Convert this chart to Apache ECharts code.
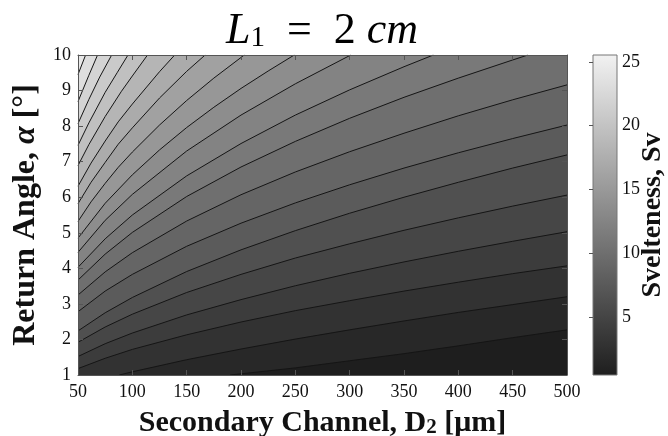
<!DOCTYPE html>
<html><head><meta charset="utf-8">
<script src="https://cdn.jsdelivr.net/npm/echarts@6/dist/echarts.min.js"></script>
<style>html,body{margin:0;padding:0;background:#fff}#c{width:668px;height:436px}</style>
</head><body><div id="c"></div>
<script>
// ---- data ----
const D2_TICKS = [50, 100, 150, 200, 250, 300, 350, 400, 450, 500];
const ALPHA_TICKS = [1, 2, 3, 4, 5, 6, 7, 8, 9, 10];
const SV_TICKS = [5, 10, 15, 20, 25];
const SV_MIN = 0.43, SV_MAX = 25.55;
const LEVELS = [1.63, 2.82, 4.02, 5.21, 6.41, 7.61, 8.80, 10.00, 11.20, 12.39,
                13.59, 14.78, 15.98, 17.17, 18.37, 19.57, 20.76, 21.96, 23.15, 24.35];
// contour lines: [D2 (um), alpha (deg)]
const contourL1  = [[190,1],[250,1.2],[300,1.4],[350,1.6],[400,1.82],[450,2.05],[500,2.27]];
const contourL2  = [[88,1],[100,1.09],[150,1.43],[200,1.73],[250,2.01],[300,2.27],[350,2.52],[400,2.76],[450,2.98],[500,3.2]];
const contourL3  = [[50,1.18],[75,1.47],[100,1.72],[150,2.13],[200,2.49],[250,2.81],[300,3.09],[350,3.36],[400,3.61],[450,3.85],[500,4.07]];
const contourL4  = [[50,1.52],[75,1.88],[100,2.18],[150,2.69],[200,3.12],[250,3.51],[300,3.86],[350,4.18],[400,4.48],[450,4.76],[500,5.03]];
const contourL5  = [[50,1.92],[75,2.35],[100,2.71],[150,3.32],[200,3.83],[250,4.29],[300,4.69],[350,5.07],[400,5.42],[450,5.75],[500,6.06]];
const contourL6  = [[50,2.24],[75,2.75],[100,3.18],[150,3.91],[200,4.52],[250,5.06],[300,5.55],[350,6.0],[400,6.42],[450,6.82],[500,7.19]];
const contourL7  = [[50,2.78],[75,3.36],[100,3.83],[150,4.62],[200,5.27],[250,5.84],[300,6.35],[350,6.82],[400,7.25],[450,7.65],[500,8.03]];
const contourL8  = [[50,3.25],[75,3.9],[100,4.44],[150,5.33],[200,6.07],[250,6.71],[300,7.28],[350,7.8],[400,8.29],[450,8.74],[500,9.16]];
const contourL9  = [[50,3.67],[75,4.4],[100,5.01],[150,6.02],[200,6.85],[250,7.57],[300,8.22],[350,8.81],[400,9.35],[450,9.86],[464,10]];
const contourL10 = [[50,4.03],[75,4.83],[100,5.5],[150,6.6],[200,7.51],[250,8.31],[300,9.02],[350,9.67],[377,10]];
const contourL11 = [[50,4.45],[75,5.35],[100,6.08],[150,7.3],[200,8.31],[250,9.19],[301,10]];
const contourL12 = [[50,4.85],[75,5.83],[100,6.63],[125,7.33],[150,7.96],[175,8.53],[200,9.06],[225,9.55],[249,10]];
const contourL13 = [[50,5.32],[62,5.87],[75,6.39],[87,6.84],[100,7.27],[125,8.03],[150,8.72],[175,9.35],[203,10]];
const contourL14 = [[50,5.82],[62,6.42],[75,6.98],[87,7.49],[100,7.95],[125,8.79],[150,9.54],[167,10]];
const contourL15 = [[50,6.31],[62,6.96],[75,7.58],[87,8.12],[100,8.62],[125,9.53],[139,10]];
const contourL16 = [[50,6.89],[60,7.48],[75,8.27],[90,8.98],[100,9.41],[114,10]];
const contourL17 = [[50,7.46],[60,8.09],[75,8.95],[86,9.5],[96,10]];
const contourL18 = [[50,8.07],[60,8.75],[70,9.38],[81,10]];
const contourL19 = [[50,8.69],[60,9.43],[68,10]];
const contourL20 = [[50,9.45],[57,10]];
const CONTOURS = [contourL1, contourL2, contourL3, contourL4, contourL5, contourL6, contourL7,
  contourL8, contourL9, contourL10, contourL11, contourL12, contourL13, contourL14, contourL15,
  contourL16, contourL17, contourL18, contourL19, contourL20];

// ---- styling ----
const SERIF = 'Liberation Serif';
function gray(v) {
  const t = (v - SV_MIN) / (SV_MAX - SV_MIN);
  const g = Math.round(30 + t * 212);
  return 'rgb(' + g + ',' + g + ',' + g + ')';
}
const AXIS_COLOR = '#555';
const series = [];
CONTOURS.forEach(function (pts, i) {
  const xMin = D2_TICKS[0], yMin = ALPHA_TICKS[0];
  const fillPts = (pts[0][1] === yMin && pts[0][0] > xMin) ? [[xMin, yMin]].concat(pts) : pts;
  series.push({
    type: 'line', xAxisIndex: 0, yAxisIndex: 0, data: fillPts,
    symbol: 'none', showSymbol: false, smooth: false,
    lineStyle: { width: 0, opacity: 0 },
    areaStyle: { origin: 'end', color: gray(LEVELS[i]), opacity: 1 },
    z: 2 + i * 0.1, silent: true, animation: false
  });
});
CONTOURS.forEach(function (pts) {
  series.push({
    type: 'line', xAxisIndex: 0, yAxisIndex: 0, data: pts,
    symbol: 'none', showSymbol: false, smooth: false,
    lineStyle: { width: 1, color: '#151515' },
    z: 30, silent: true, animation: false
  });
});
series.push({
  type: 'custom', xAxisIndex: 2, yAxisIndex: 2, data: [[0, SV_MIN, 1, SV_MAX]],
  silent: true, animation: false, z: 5,
  renderItem: function (params, api) {
    const p0 = api.coord([api.value(0), api.value(1)]);
    const p1 = api.coord([api.value(2), api.value(3)]);
    return {
      type: 'rect',
      shape: { x: p0[0], y: p1[1], width: p1[0] - p0[0], height: p0[1] - p1[1] },
      style: {
        fill: new echarts.graphic.LinearGradient(0, 1, 0, 0, [
          { offset: 0, color: gray(SV_MIN) }, { offset: 1, color: gray(SV_MAX) }]),
        stroke: '#777', lineWidth: 1
      }
    };
  }
});

const tickLabel = { fontFamily: SERIF, fontSize: 18, color: '#111' };
const chart = echarts.init(document.getElementById('c'), null, { renderer: 'canvas' });
chart.setOption({
  animation: false,
  backgroundColor: '#fff',
  grid: [
    { left: 78, top: 55, width: 489, height: 320, show: true, backgroundColor: gray(SV_MIN), borderWidth: 0,
      containLabel: false, outerBoundsMode: 'none' },
    { left: 593, top: 55, width: 24, height: 320, containLabel: false, outerBoundsMode: 'none' }
  ],
  graphic: [{
    type: 'text', x: 322, y: 30, z: 50,
    style: {
      text: '{i|L}{s|1}{n|  =  2 }{i|cm}',
      align: 'center', verticalAlign: 'middle',
      rich: {
        i: { fontFamily: SERIF, fontStyle: 'italic', fontSize: 44, lineHeight: 46, verticalAlign: 'bottom', fill: '#000' },
        n: { fontFamily: SERIF, fontSize: 44, lineHeight: 46, verticalAlign: 'bottom', fill: '#000' },
        s: { fontFamily: SERIF, fontSize: 29, lineHeight: 24, verticalAlign: 'bottom', fill: '#000' }
      }
    }
  }],
  xAxis: [
    {
      type: 'value', gridIndex: 0, min: D2_TICKS[0], max: D2_TICKS[D2_TICKS.length - 1], interval: 50,
      position: 'bottom', z: 40,
      axisLine: { show: true, onZero: false, lineStyle: { color: AXIS_COLOR } },
      axisTick: { show: true, inside: true, length: 5, lineStyle: { color: AXIS_COLOR } },
      axisLabel: Object.assign({ margin: 8 }, tickLabel),
      splitLine: { show: false },
      name: '{b|Secondary Channel, D}{s|2}{b| [μm]}', nameLocation: 'middle', nameGap: 31,
      nameTextStyle: {
        rich: {
          b: { fontFamily: SERIF, fontWeight: 'bold', fontSize: 30, lineHeight: 32, verticalAlign: 'bottom', color: '#111' },
          s: { fontFamily: SERIF, fontWeight: 'bold', fontSize: 21, lineHeight: 27, verticalAlign: 'bottom', color: '#111' }
        }
      }
    },
    {
      type: 'value', gridIndex: 0, min: D2_TICKS[0], max: D2_TICKS[D2_TICKS.length - 1], interval: 50,
      position: 'top', z: 40,
      axisLine: { show: true, onZero: false, lineStyle: { color: AXIS_COLOR } },
      axisTick: { show: true, inside: true, length: 5, lineStyle: { color: AXIS_COLOR } },
      axisLabel: { show: false }, splitLine: { show: false }
    },
    { type: 'value', gridIndex: 1, min: 0, max: 1, show: false }
  ],
  yAxis: [
    {
      type: 'value', gridIndex: 0, min: ALPHA_TICKS[0], max: ALPHA_TICKS[ALPHA_TICKS.length - 1], interval: 1,
      position: 'left', z: 40,
      axisLine: { show: true, onZero: false, lineStyle: { color: AXIS_COLOR } },
      axisTick: { show: true, inside: true, length: 5, lineStyle: { color: AXIS_COLOR } },
      axisLabel: Object.assign({ margin: 7 }, tickLabel),
      splitLine: { show: false },
      name: '{b|Return Angle, }{a|α}{b| [°]}', nameLocation: 'middle', nameGap: 34, nameRotate: 90,
      nameTextStyle: {
        rich: {
          b: { fontFamily: SERIF, fontWeight: 'bold', fontSize: 32, color: '#111' },
          a: { fontFamily: SERIF, fontWeight: 'bold', fontStyle: 'italic', fontSize: 32, color: '#111' }
        }
      }
    },
    {
      type: 'value', gridIndex: 0, min: ALPHA_TICKS[0], max: ALPHA_TICKS[ALPHA_TICKS.length - 1], interval: 1,
      position: 'right', z: 40,
      axisLine: { show: true, onZero: false, lineStyle: { color: AXIS_COLOR } },
      axisTick: { show: true, inside: true, length: 5, lineStyle: { color: AXIS_COLOR } },
      axisLabel: { show: false }, splitLine: { show: false }
    },
    {
      type: 'value', gridIndex: 1, min: SV_MIN, max: SV_MAX, position: 'right', z: 40,
      axisLine: { show: false },
      axisTick: { show: true, inside: true, length: 4, customValues: SV_TICKS, lineStyle: { color: AXIS_COLOR } },
      axisLabel: Object.assign({ margin: 5, customValues: SV_TICKS }, tickLabel),
      splitLine: { show: false },
      name: 'Svelteness, Sv', nameLocation: 'middle', nameGap: 22, nameRotate: 90, nameMoveOverlap: false,
      nameTextStyle: { fontFamily: SERIF, fontWeight: 'bold', fontSize: 28, color: '#111' }
    }
  ],
  series: series
});
</script>
</body></html>
